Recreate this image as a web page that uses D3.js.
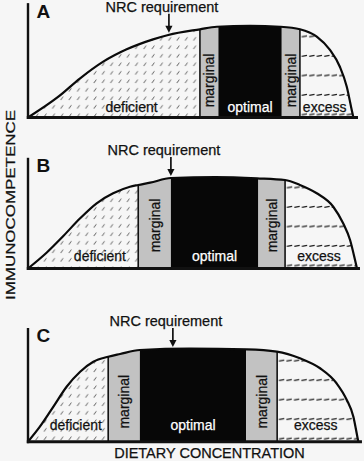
<!DOCTYPE html>
<html>
<head>
<meta charset="utf-8">
<script src="https://cdn.jsdelivr.net/npm/d3@7/dist/d3.min.js"></script>
<style>
  html, body { margin: 0; padding: 0; background: #f6f6f6; }
  svg { display: block; }
  text { font-family: "Liberation Sans", Arial, Helvetica, sans-serif; }
</style>
</head>
<body>
<svg id="chart" width="364" height="461"></svg>
<script>
// ---------------- DATA ----------------
const panelIds = ["A", "B", "C"];
const zoneNames = ["deficient", "marginal", "optimal", "marginal", "excess"];
const xAxisTitle = "DIETARY CONCENTRATION";
const yAxisTitle = "IMMUNOCOMPETENCE";
const nrcLabel = "NRC requirement";

// immunocompetence response curves (dietary concentration 0-100, response 0-100)
const curveXA = [0, 9.2, 15.8, 22.8, 29.9, 37.9, 42.5, 52.1, 57.2, 67.3, 76.4, 82.4, 87.5, 91.5, 94.5, 96.6, 98.1, 98.6];
const curveYA = [0, 22.7, 42.8, 61.0, 74.5, 85.4, 90.2, 96.4, 99.2, 100.3, 99.2, 96.4, 88.3, 73.8, 55.5, 33.7, 8.2, 0];
const curveXB = [0, 5.7, 10.7, 15.8, 20.8, 25.8, 30.9, 33.4, 37.0, 43.3, 56.7, 69.4, 77.9, 82.4, 87.5, 92.5, 95.5, 97.6, 99.1, 99.7];
const curveYB = [0, 17.5, 35.5, 54.9, 71.3, 82.2, 89.4, 91.3, 93.8, 98.9, 100, 98.6, 96.7, 91.3, 82.2, 67.5, 49.4, 31.1, 9.3, 0];
const curveXC = [0, 3.6, 7.7, 11.7, 15.8, 19.8, 24.3, 27.9, 33.9, 49.1, 66.3, 75.4, 82.4, 88.5, 93.5, 96.6, 98.6, 99.8, 100.1];
const curveYC = [0, 16.1, 37.6, 59.0, 75.1, 85.8, 91.2, 94.1, 98.4, 100, 99.1, 96.6, 89.5, 78.8, 62.7, 44.8, 26.8, 5.4, 0];

// zone boundaries (deficient | marginal | optimal | marginal | excess)
const boundsA = [0, 52.1, 57.7, 76.9, 82.4, 98.6];
const boundsB = [0, 33.4, 43.3, 69.8, 77.9, 99.7];
const boundsC = [0, 24.3, 33.9, 66.1, 75.5, 100.1];

// NRC requirement position (dietary concentration)
const nrcX = [42.7, 43.3, 43.9];

// axis extents
const axisYMax = [125, 121, 122];
const axisXMax = [100, 100.6, 101.2];

// ---------------- LAYOUT ----------------
const layout = [
  { baseline: 117.5, plateau: 26,    labelUp: 5.5,  margUp: 37, defX: 31.4 },
  { baseline: 268.5, plateau: 177,   labelUp: 7.5,  margUp: 43, defX: 21.8 },
  { baseline: 441.7, plateau: 348.5, labelUp: 11.7, margUp: 40, defX: 14.5 }
];
const curvesX = [curveXA, curveXB, curveXC];
const curvesY = [curveYA, curveYB, curveYC];
const bounds = [boundsA, boundsB, boundsC];

const svg = d3.select("#chart");
const x = d3.scaleLinear().domain([0, 100]).range([28, 358]);
const defs = svg.append("defs");

// hatch for deficient zone
const hatch = defs.append("pattern").attr("id", "hatch")
  .attr("patternUnits", "userSpaceOnUse").attr("width", 8.3).attr("height", 8.5);
hatch.append("path").attr("d", "M2.5,6.6 L5,3.2")
  .attr("stroke", "#4a4a4a").attr("stroke-width", 0.9).attr("fill", "none");

const zoneFill = (i, z) => ["url(#hatch)", "#c2c2c2", "#070707", "#c2c2c2", `url(#dash${i})`][z];
const txt = sel => sel.attr("stroke-width", 0.25);

panelIds.forEach((pid, i) => {
  const L = layout[i];
  const y = d3.scaleLinear().domain([0, 100]).range([L.baseline, L.plateau]);
  const pts = curvesX[i].map((v, k) => [v, curvesY[i][k]]);
  const b = bounds[i];

  // excess dashed pattern
  const rowH = 19.5;
  const pat = defs.append("pattern").attr("id", `dash${i}`)
    .attr("patternUnits", "userSpaceOnUse").attr("width", 7.5).attr("height", rowH)
    .attr("patternTransform", `translate(${x(b[4]) + 1.5},${L.baseline - 3 - rowH / 2})`);
  pat.append("path").attr("d", `M0.3,${rowH / 2 + 0.4} L5.6,${rowH / 2 - 0.6}`)
    .attr("stroke", "#1a1a1a").attr("stroke-width", 1.2).attr("fill", "none");

  // clip path = area under the curve
  const area = d3.area().x(d => x(d[0])).y0(y(0)).y1(d => y(d[1])).curve(d3.curveMonotoneX);
  defs.append("clipPath").attr("id", `clip${i}`)
    .append("path").attr("d", area(pts));

  const g = svg.append("g");
  const zones = g.append("g").attr("clip-path", `url(#clip${i})`);
  zoneNames.forEach((name, z) => {
    zones.append("rect")
      .attr("x", x(b[z])).attr("width", x(b[z + 1]) - x(b[z]))
      .attr("y", y(130)).attr("height", y(0) - y(130) + 2)
      .attr("fill", zoneFill(i, z));
  });
  // boundary lines
  [1, 4].forEach(k => {
    zones.append("line")
      .attr("x1", x(b[k])).attr("x2", x(b[k]))
      .attr("y1", y(130)).attr("y2", y(0))
      .attr("stroke", "#111").attr("stroke-width", 1.6);
  });

  // curve
  const line = d3.line().x(d => x(d[0])).y(d => y(d[1])).curve(d3.curveMonotoneX);
  g.append("path").attr("d", line(pts))
    .attr("fill", "none").attr("stroke", "#0a0a0a").attr("stroke-width", 2.2);

  // axes
  g.append("line").attr("x1", x(0)).attr("x2", x(0))
    .attr("y1", y(axisYMax[i])).attr("y2", y(0) + 1.5)
    .attr("stroke", "#111").attr("stroke-width", 2.4);
  g.append("line").attr("x1", x(0) - 1.2).attr("x2", x(axisXMax[i]))
    .attr("y1", y(0)).attr("y2", y(0))
    .attr("stroke", "#111").attr("stroke-width", 3);

  // panel letter
  g.append("text").attr("x", x(0) + 8.5).attr("y", y(axisYMax[i]) + 14.5)
    .attr("font-size", 19).attr("font-weight", "bold").attr("fill", "#111").text(pid);

  // zone labels
  const lblY = y(0) - L.labelUp;
  g.append("text").attr("x", x(L.defX)).attr("y", lblY).attr("text-anchor", "middle")
    .attr("font-size", 14).attr("fill", "#111").attr("stroke", "#111").call(txt).text(zoneNames[0]);
  g.append("text").attr("x", x((b[2] + b[3]) / 2)).attr("y", lblY).attr("text-anchor", "middle")
    .attr("font-size", 14).attr("fill", "#fff").attr("stroke", "#fff").call(txt).text(zoneNames[2]);
  g.append("text").attr("x", x((b[4] + b[5]) / 2) - 2).attr("y", lblY).attr("text-anchor", "middle")
    .attr("font-size", 14).attr("fill", "#111").attr("stroke", "#111").call(txt).text(zoneNames[4]);
  [1, 3].forEach(z => {
    const cx = x((b[z] + b[z + 1]) / 2), cy = y(0) - L.margUp;
    g.append("text").attr("transform", `translate(${cx},${cy}) rotate(-90)`)
      .attr("text-anchor", "middle").attr("dominant-baseline", "central")
      .attr("font-size", 14).attr("fill", "#111").attr("stroke", "#111").call(txt).text(zoneNames[z]);
  });

  // NRC requirement arrow
  const ax = x(nrcX[i]);
  const cv = d3.scaleLinear().domain(curvesX[i]).range(curvesY[i]);
  const tipY = y(cv(nrcX[i])) - 2;
  g.append("line").attr("x1", ax).attr("x2", ax).attr("y1", tipY - 19).attr("y2", tipY - 5)
    .attr("stroke", "#111").attr("stroke-width", 1.7);
  g.append("path").attr("d", `M${ax - 3.6},${tipY - 7} L${ax + 3.6},${tipY - 7} L${ax},${tipY} Z`)
    .attr("fill", "#111");
  g.append("text").attr("x", ax - 7).attr("y", tipY - 21).attr("text-anchor", "middle")
    .attr("font-size", 14.5).attr("fill", "#111").attr("stroke", "#111").call(txt).text(nrcLabel);
});

// axis titles
svg.append("text").attr("x", 209.5).attr("y", 458).attr("text-anchor", "middle")
  .attr("font-size", 14.5).attr("fill", "#111").attr("stroke", "#111").call(txt).text(xAxisTitle);
svg.append("text").attr("transform", "translate(11,205) rotate(-90)")
  .attr("text-anchor", "middle").attr("dominant-baseline", "central")
  .attr("font-size", 12.5).attr("textLength", 190).attr("lengthAdjust", "spacingAndGlyphs")
  .attr("fill", "#111").attr("stroke", "#111").call(txt).text(yAxisTitle);
</script>
</body>
</html>
